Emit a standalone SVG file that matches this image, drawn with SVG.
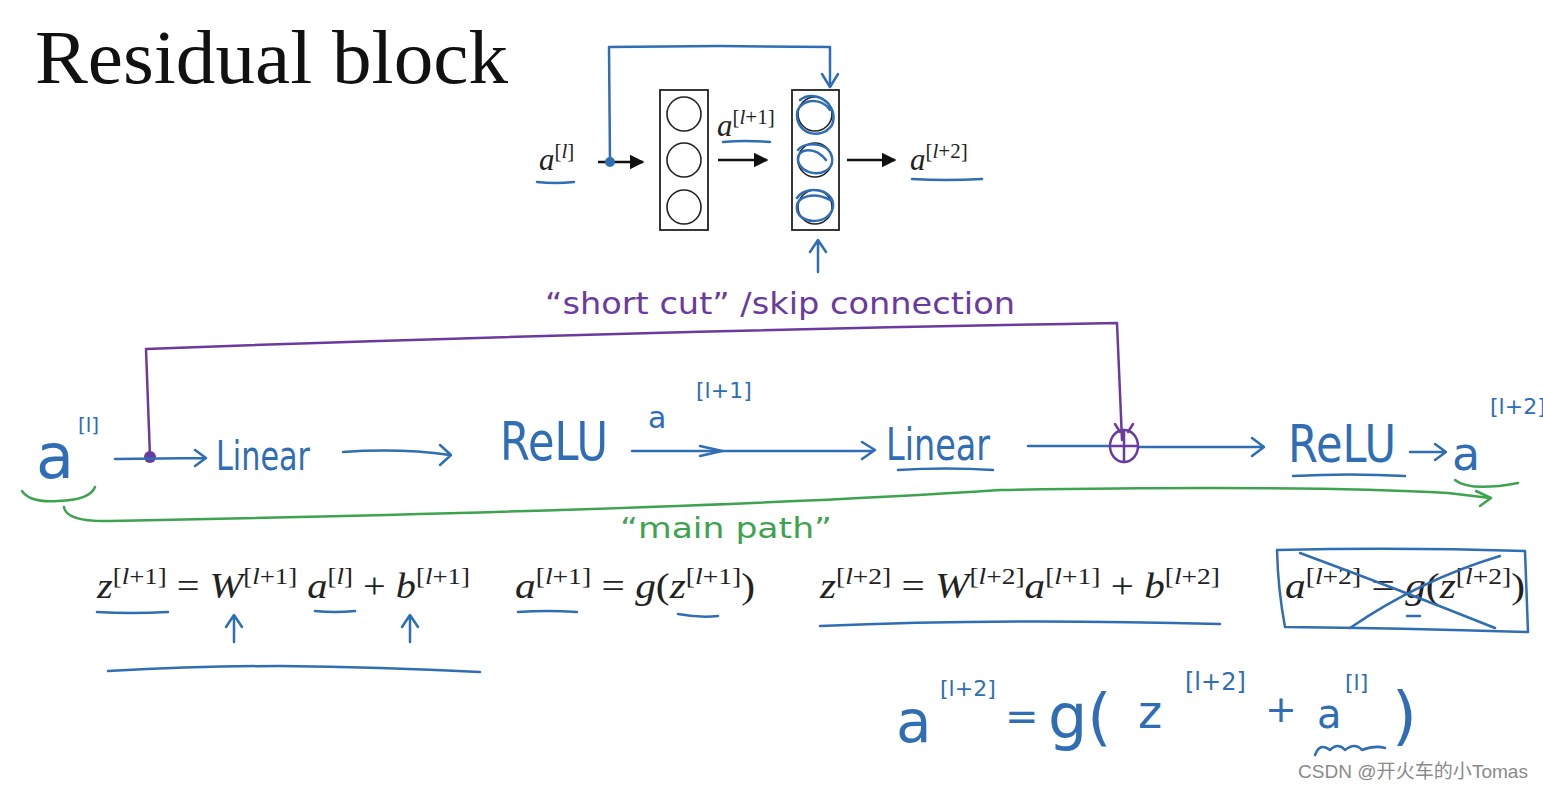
<svg xmlns="http://www.w3.org/2000/svg" width="1543" height="790" viewBox="0 0 1543 790">
<style>
.bg{fill:#fff}
.title{font-family:"Liberation Serif",serif;font-size:76px;fill:#111}
.eq{font-family:"Liberation Serif",serif;font-size:36px;fill:#222}
.eqs{font-size:24px}
.it{font-style:italic}
.hw{font-family:"DejaVu Sans","Liberation Sans",sans-serif;fill:#2f6db5}
.hwp{font-family:"DejaVu Sans","Liberation Sans",sans-serif;fill:#6b3aa0}
.hwg{font-family:"DejaVu Sans","Liberation Sans",sans-serif;fill:#3ea34f}
.blue{fill:none;stroke:#2f6db5;stroke-width:2.5;stroke-linecap:round;stroke-linejoin:round}
.purple{fill:none;stroke:#6b3aa0;stroke-width:2.5;stroke-linecap:round;stroke-linejoin:round}
.green{fill:none;stroke:#3ea34f;stroke-width:2.5;stroke-linecap:round;stroke-linejoin:round}
.blk{fill:none;stroke:#111;stroke-width:2.5}
.box{fill:none;stroke:#222;stroke-width:1.8}
.neuron{fill:none;stroke:#222;stroke-width:1.6}
.wm{font-family:"Liberation Sans","Noto Sans CJK SC",sans-serif;font-size:19px;fill:#8a8a8a}
</style>
<defs>
<marker id="ah" viewBox="0 0 10 10" refX="9" refY="5" markerWidth="6" markerHeight="6" orient="auto">
<path d="M0,0 L10,5 L0,10 Z" fill="#111"/>
</marker>
</defs>
<rect class="bg" x="0" y="0" width="1543" height="790"/>

<g id="title"><text class="title" x="35" y="83" textLength="473" lengthAdjust="spacingAndGlyphs">Residual block</text></g>

<!-- top small network -->
<g id="top-al">
<text class="eq" x="539" y="170"><tspan class="it" font-size="31">a</tspan><tspan font-size="21" dy="-12">[<tspan class="it">l</tspan>]</tspan></text>
<path class="blue" d="M537,182 Q555,184 574,182"/>
</g>
<g id="layer1">
<rect class="box" x="660" y="90" width="48" height="140"/>
<circle class="neuron" cx="684" cy="114" r="17"/>
<circle class="neuron" cx="684" cy="160" r="17"/>
<circle class="neuron" cx="684" cy="207" r="17"/>
</g>
<g id="top-al1">
<text class="eq" x="717" y="136"><tspan class="it" font-size="31">a</tspan><tspan font-size="21" dy="-12">[<tspan class="it">l</tspan>+1]</tspan></text>
<path class="blue" d="M723,142 Q745,140 770,142"/>
</g>
<g id="layer2">
<rect class="box" x="792" y="90" width="47" height="140"/>
<circle class="neuron" cx="815" cy="114" r="17"/>
<circle class="neuron" cx="815" cy="160" r="17"/>
<circle class="neuron" cx="815" cy="207" r="17"/>
<path class="blue" stroke-width="2" d="M800,100 C815,88 840,105 832,125 C822,140 797,135 797,115 C797,100 820,95 830,110"/>
<path class="blue" stroke-width="2" d="M798,150 C805,140 835,142 832,163 C828,178 800,176 798,160 C797,148 815,146 826,160"/>
<path class="blue" stroke-width="2" d="M797,198 C805,185 835,188 833,207 C830,225 800,225 797,210 C795,195 815,192 830,200"/>
</g>
<g id="top-al2">
<text class="eq" x="910" y="170"><tspan class="it" font-size="31">a</tspan><tspan font-size="21" dy="-12">[<tspan class="it">l</tspan>+2]</tspan></text>
<path class="blue" d="M912,179 Q945,181 982,179"/>
</g>
<g id="top-connectors">
<line class="blk" x1="598" y1="162" x2="643" y2="162" marker-end="url(#ah)"/>
<line class="blk" x1="718" y1="160" x2="767" y2="160" marker-end="url(#ah)"/>
<line class="blk" x1="847" y1="160" x2="895" y2="160" marker-end="url(#ah)"/>
<path class="blue" d="M610,162 L609,47 L720,46 L830,47 L830,86"/>
<path class="blue" d="M822,74 L830,87 L838,74"/>
<circle cx="610" cy="162" r="5" fill="#2f6db5"/>
<path class="blue" d="M818,272 L818,242 M810,252 L818,240 L826,252"/>
</g>

<g id="shortcut-label"><text class="hwp" x="545" y="314" font-size="31" textLength="470" lengthAdjust="spacingAndGlyphs">“short cut” /skip connection</text></g>

<!-- main path -->
<g id="main-connectors">
<path class="purple" d="M150,457 L146,349 Q600,332 1117,323 L1122,440"/>
<circle cx="150" cy="457" r="6" fill="#6b3aa0"/>
<path class="blue" d="M115,459 L205,458 M195,450 L206,458 L195,466"/>
<path class="blue" d="M343,452 Q400,448 450,455 M440,445 L451,455 L440,465"/>
<path class="blue" d="M632,451 L873,451 M862,442 L875,450 L862,459"/>
<path class="blue" d="M700,446 L722,451 L700,456"/>
<path class="blue" d="M1028,446 L1110,446"/>
<path class="blue" d="M1138,447 L1262,447 M1252,438 L1264,447 L1252,456"/>
<path class="blue" d="M1410,452 L1444,452 M1435,444 L1446,452 L1435,460"/>
<ellipse class="purple" cx="1124" cy="446" rx="14" ry="16"/>
<path class="purple" d="M1124,430 L1124,462 M1112,446 L1136,446 M1115,424 L1120,432 M1133,424 L1128,432"/>
<path class="green" d="M22,491 Q30,503 58,501 Q90,500 95,487"/>
<path class="green" d="M64,507 Q66,522 110,521 Q700,510 1000,490 Q1300,485 1448,493 L1490,498"/>
<path class="green" d="M1476,491 L1491,498 L1480,506"/>
<path class="green" d="M1455,480 Q1470,492 1518,483"/>
</g>
<g id="node-al">
<text class="hw" x="36" y="478" font-size="62">a</text>
<text class="hw" x="78" y="432" font-size="20">[l]</text>
</g>
<g id="node-linear1"><text class="hw" x="216" y="470" font-size="40" textLength="94" lengthAdjust="spacingAndGlyphs">Linear</text></g>
<g id="node-relu1"><text class="hw" x="500" y="460" font-size="54" textLength="108" lengthAdjust="spacingAndGlyphs">ReLU</text></g>
<g id="node-al1">
<text class="hw" x="648" y="428" font-size="30">a</text>
<text class="hw" x="696" y="398" font-size="22">[l+1]</text>
</g>
<g id="node-linear2">
<text class="hw" x="886" y="460" font-size="44" textLength="104" lengthAdjust="spacingAndGlyphs">Linear</text>
<path class="blue" d="M898,470 Q945,467 993,470"/>
</g>
<g id="node-relu2">
<text class="hw" x="1288" y="462" font-size="52" textLength="108" lengthAdjust="spacingAndGlyphs">ReLU</text>
<path class="blue" d="M1293,476 Q1350,473 1405,476"/>
</g>
<g id="node-al2">
<text class="hw" x="1452" y="470" font-size="46">a</text>
<text class="hw" x="1490" y="414" font-size="22">[l+2]</text>
</g>
<g id="main-path-label"><text class="hwg" x="620" y="538" font-size="28" textLength="212" lengthAdjust="spacingAndGlyphs">“main path”</text></g>

<!-- equations -->
<g id="eq1">
<text class="eq" x="97" y="598" textLength="373" lengthAdjust="spacingAndGlyphs"><tspan class="it">z</tspan><tspan class="eqs" dy="-14">[<tspan class="it">l</tspan>+1]</tspan><tspan dy="14"> = </tspan><tspan class="it">W</tspan><tspan class="eqs" dy="-14">[<tspan class="it">l</tspan>+1]</tspan><tspan dy="14"> </tspan><tspan class="it">a</tspan><tspan class="eqs" dy="-14">[<tspan class="it">l</tspan>]</tspan><tspan dy="14"> + </tspan><tspan class="it">b</tspan><tspan class="eqs" dy="-14">[<tspan class="it">l</tspan>+1]</tspan></text>
<path class="blue" d="M97,612 Q130,614 168,612"/>
<path class="blue" d="M315,611 Q335,613 355,611"/>
<path class="blue" d="M234,642 L234,616 M226,627 L234,615 L242,627"/>
<path class="blue" d="M410,642 L410,616 M402,627 L410,615 L418,627"/>
<path class="blue" d="M108,671 Q200,666 280,666 Q380,667 480,672"/>
</g>
<g id="eq2">
<text class="eq" x="515" y="598" textLength="240" lengthAdjust="spacingAndGlyphs"><tspan class="it">a</tspan><tspan class="eqs" dy="-14">[<tspan class="it">l</tspan>+1]</tspan><tspan dy="14"> = </tspan><tspan class="it">g</tspan>(<tspan class="it">z</tspan><tspan class="eqs" dy="-14">[<tspan class="it">l</tspan>+1]</tspan><tspan dy="14">)</tspan></text>
<path class="blue" d="M518,612 Q548,610 577,612"/>
<path class="blue" d="M678,614 Q700,618 718,616"/>
</g>
<g id="eq3">
<text class="eq" x="820" y="598" textLength="400" lengthAdjust="spacingAndGlyphs"><tspan class="it">z</tspan><tspan class="eqs" dy="-14">[<tspan class="it">l</tspan>+2]</tspan><tspan dy="14"> =  </tspan><tspan class="it">W</tspan><tspan class="eqs" dy="-14">[<tspan class="it">l</tspan>+2]</tspan><tspan class="it" dy="14">a</tspan><tspan class="eqs" dy="-14">[<tspan class="it">l</tspan>+1]</tspan><tspan dy="14"> + </tspan><tspan class="it">b</tspan><tspan class="eqs" dy="-14">[<tspan class="it">l</tspan>+2]</tspan></text>
<path class="blue" d="M820,626 Q1000,618 1220,624"/>
</g>
<g id="eq4">
<text class="eq" x="1285" y="598" textLength="240" lengthAdjust="spacingAndGlyphs"><tspan class="it">a</tspan><tspan class="eqs" dy="-14">[<tspan class="it">l</tspan>+2]</tspan><tspan dy="14"> = </tspan><tspan class="it">g</tspan>(<tspan class="it">z</tspan><tspan class="eqs" dy="-14">[<tspan class="it">l</tspan>+2]</tspan><tspan dy="14">)</tspan></text>
<path class="blue" d="M1277,550 Q1400,547 1525,551 L1528,632 Q1400,628 1285,627 Q1278,590 1277,550 Z"/>
<path class="blue" d="M1300,553 Q1400,590 1495,628"/>
<path class="blue" d="M1350,628 Q1420,580 1500,556"/>
<path class="blue" d="M1407,616 L1420,616"/>
</g>
<g id="eq5">
<text class="hw" x="896" y="742" font-size="58">a</text>
<text class="hw" x="940" y="696" font-size="22">[l+2]</text>
<text class="hw" x="1005" y="730" font-size="40">=</text>
<text class="hw" x="1048" y="738" font-size="62">g(</text>
<text class="hw" x="1138" y="728" font-size="46">z</text>
<text class="hw" x="1185" y="690" font-size="24">[l+2]</text>
<text class="hw" x="1265" y="722" font-size="38">+</text>
<text class="hw" x="1317" y="728" font-size="40">a</text>
<text class="hw" x="1345" y="690" font-size="22">[l]</text>
<text class="hw" x="1392" y="738" font-size="64">)</text>
<path class="blue" d="M1315,755 Q1320,742 1330,750 Q1338,742 1345,750 Q1355,742 1362,750 Q1375,745 1385,748"/>
</g>

<text class="wm" x="1298" y="778" textLength="230" lengthAdjust="spacingAndGlyphs">CSDN @开火车的小Tomas</text>
</svg>
